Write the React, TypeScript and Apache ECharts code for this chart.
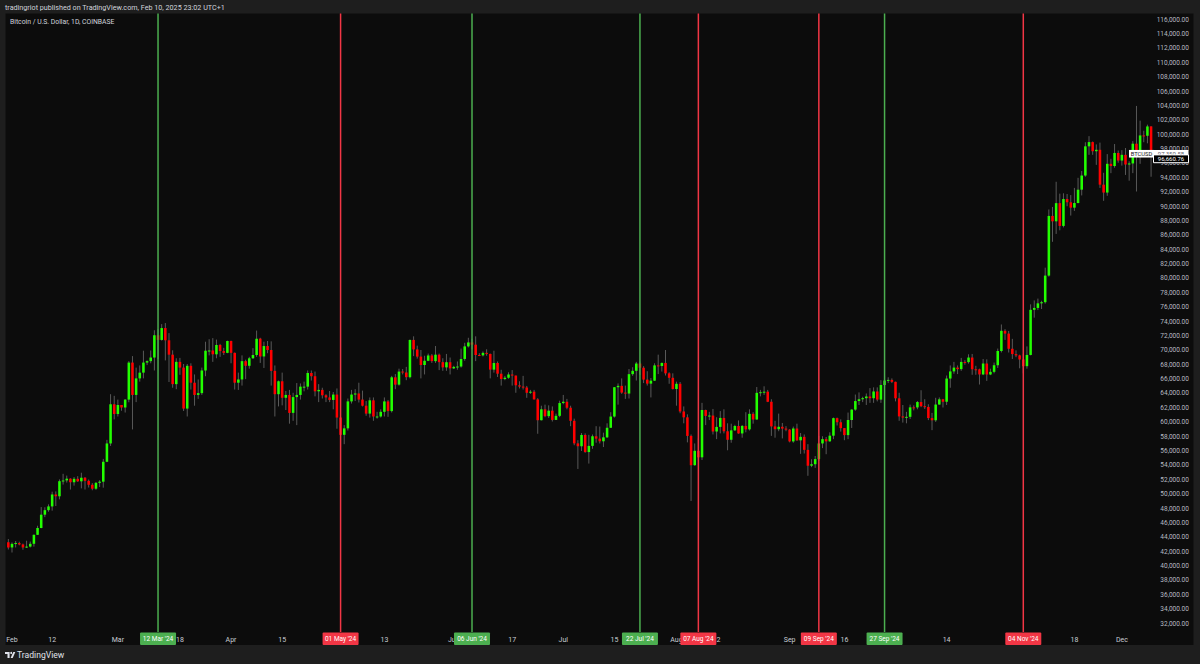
import React, { useEffect, useRef } from 'react';
import * as echarts from 'echarts';

// ---- DATA ----
// Each bar: [high, low, close]; a daily bar opens at the previous close (24/7 market).
const startDate = '2024-01-31';
const firstOpen = 43300;

const jan: number[][] = [[43750, 42300, 42580]];
const feb: number[][] = [
  [43280, 41880, 43080], [43480, 42580, 43190], [43380, 42880, 43000], [43120, 42260, 42580], [43520, 42510, 42700],
  [43400, 42580, 43090], [44380, 42700, 44340], [45600, 44330, 45290], [48200, 45250, 47140], [48170, 46800, 47770],
  [48580, 47550, 48290], [50340, 47700, 49950], [50380, 48350, 49700], [52050, 49270, 51800], [52830, 51330, 51910],
  [52580, 51610, 52150], [52200, 50640, 51650], [52380, 51180, 52130], [52500, 51700, 51780], [52980, 50800, 52280],
  [52380, 50640, 51850], [52030, 50920, 51300], [51530, 50540, 50750], [51680, 50600, 51570], [51940, 51000, 51730],
  [54900, 50900, 54500], [57550, 54450, 57050], [63900, 56700, 62500], [63670, 60400, 61150],
];
const mar: number[][] = [
  [63150, 60800, 62400], [62400, 61600, 62050], [63200, 61350, 63150], [68500, 62780, 68300], [69200, 59000, 63800],
  [67600, 62800, 66100], [67900, 65650, 66900], [69950, 66100, 68300], [68600, 67950, 68500], [69980, 68200, 69000],
  [72800, 67200, 72100], [72950, 68800, 71450], [73650, 71350, 73100], [73800, 68600, 71400], [72400, 65600, 69400],
  [70000, 64800, 65300], [68900, 64600, 68400], [68950, 66600, 67600], [68100, 61560, 61900], [68100, 60800, 67850],
  [68200, 64550, 65500], [66650, 62300, 63800], [65950, 63250, 64050], [67600, 63800, 67200], [71200, 66400, 69950],
  [71550, 69300, 69980], [71700, 68400, 69450], [71500, 68900, 70750], [70900, 69100, 69900], [70350, 69350, 69650],
  [71350, 69600, 71300],
];
const apr: number[][] = [
  [71350, 68200, 69650], [69700, 64550, 65500], [66900, 64500, 65950], [69300, 65100, 68500], [68700, 66000, 67850],
  [69100, 67450, 68900], [70300, 68800, 69350], [72750, 69100, 71630], [71750, 68250, 69150], [71200, 67550, 70600],
  [71300, 69600, 70050], [71250, 65100, 67150], [67900, 60800, 63900], [65800, 62200, 65700], [66900, 62350, 63400],
  [64350, 61700, 63800], [64500, 59800, 61300], [64100, 60200, 63500], [65450, 59600, 63800], [65400, 63150, 64950],
  [65650, 64300, 64950], [67200, 64550, 66850], [67200, 65800, 66400], [67050, 63600, 64300], [65300, 62800, 64500],
  [64800, 63300, 63750], [63900, 62800, 63450], [64350, 62800, 63100], [64200, 61800, 63850], [64700, 59100, 60650],
];
const may: number[][] = [
  [60800, 56550, 58250], [59600, 56950, 59150], [63300, 58850, 62900], [64500, 62600, 63850], [64600, 62950, 64000],
  [65500, 62750, 63150], [64400, 62200, 62300], [62950, 60900, 61200], [63450, 60650, 63050], [63450, 60200, 60800],
  [61450, 60500, 60800], [61800, 60650, 61450], [63450, 60800, 62900], [63100, 60750, 61550], [66450, 61350, 66250],
  [66700, 64600, 65230], [67450, 65100, 67050], [67400, 66650, 66920], [67700, 65850, 66270], [71500, 66100, 71450],
  [71950, 69200, 70130], [70650, 68850, 69130], [70050, 66100, 67960], [69250, 66650, 68550], [69550, 68500, 69290],
  [69500, 68250, 68500], [70600, 68250, 69400], [69550, 67250, 68360], [68900, 67150, 67630], [69500, 67150, 68350],
  [69000, 66650, 67490],
];
const jun: number[][] = [
  [67850, 67400, 67700], [68450, 67300, 67750], [70250, 67600, 68800], [71050, 68550, 70550], [71750, 70400, 71100],
  [71600, 70150, 70790], [71950, 68500, 69350], [69600, 69200, 69300], [69850, 69150, 69650], [70150, 69250, 69500],
  [69550, 66100, 67320], [69950, 66900, 68240], [68450, 66300, 66750], [67300, 65100, 66010], [66450, 65850, 66190],
  [66950, 66050, 66640], [67250, 65100, 66490], [66500, 64100, 65140], [65700, 64700, 64960], [66450, 64550, 64830],
  [65050, 63400, 64100], [64500, 63950, 64250], [64500, 63150, 63180], [63350, 58400, 60280], [62300, 60250, 61800],
  [62450, 60700, 60850], [62350, 60600, 61610], [62200, 60100, 60320], [61200, 60350, 60890], [63000, 60700, 62670],
];
const jul: number[][] = [
  [63800, 62500, 62850], [63250, 61800, 62020], [62300, 59450, 60200], [60500, 56800, 57060], [57500, 53500, 56660],
  [58500, 56000, 58230], [58450, 55750, 55850], [58250, 54250, 56710], [58300, 56300, 58050], [59450, 57150, 57720],
  [59400, 57050, 57350], [58550, 56550, 57900], [59850, 57800, 59230], [61400, 59200, 60790], [64900, 60650, 64870],
  [65400, 62450, 65060], [66100, 63950, 64120], [65100, 63250, 63990], [67400, 63300, 66690], [67650, 66450, 67150],
  [68400, 65800, 68170], [68450, 66600, 67580], [67800, 65450, 65930], [67100, 65100, 65370], [66150, 63450, 65780],
  [68200, 65750, 67910], [69400, 66700, 67820], [68300, 67050, 68250], [70050, 66500, 66800], [66950, 65350, 66180],
  [66800, 64550, 64620],
];
const aug: number[][] = [
  [65650, 62300, 65350], [65600, 61250, 61500], [62200, 59850, 60680], [61100, 57200, 58100], [58300, 49050, 54020],
  [57050, 53950, 56030], [57750, 54550, 55120], [62700, 54750, 61700], [61750, 59600, 60880], [61450, 60300, 60930],
  [61850, 58300, 58710], [60700, 57650, 59350], [61550, 58450, 60600], [61800, 58450, 58740], [59850, 56100, 57560],
  [59800, 57150, 58870], [59650, 58800, 59480], [60250, 58400, 58440], [59600, 57850, 59490], [61400, 58600, 59010],
  [61800, 58850, 61170], [61400, 59800, 60380], [64900, 60350, 64090], [64500, 63600, 64180], [65000, 63800, 64250],
  [64500, 62800, 62850], [63200, 58100, 59420], [60200, 57850, 59030], [61200, 58750, 59370], [59900, 57750, 59120],
  [59450, 58750, 58970],
];
const sep: number[][] = [
  [59050, 57200, 57330], [59400, 57150, 59130], [59800, 57400, 57480], [58500, 55600, 57970], [58300, 55650, 56160],
  [56950, 52550, 53950], [54850, 53750, 54160], [55300, 53650, 54870], [58100, 54600, 57050], [58050, 56400, 57650],
  [57950, 55550, 57340], [58600, 57300, 58130], [60650, 57650, 60570], [60650, 59550, 60000], [60400, 58700, 59180],
  [59200, 57500, 58210], [61350, 57650, 60310], [61800, 59200, 61760], [63850, 61600, 62950], [64150, 62400, 63200],
  [63550, 62800, 63350], [64000, 62400, 63580], [64750, 62700, 63340], [64850, 62700, 64280], [64850, 62900, 63150],
  [65850, 62700, 65180], [66500, 64850, 65800], [66250, 65450, 65890], [66100, 65450, 65620], [65650, 62900, 63330],
];
const oct: number[][] = [
  [64100, 60200, 60810], [62400, 59950, 60650], [61450, 59850, 60750], [62450, 60450, 62070], [62350, 61650, 62060],
  [62950, 61800, 62810], [64450, 62100, 62230], [63200, 61850, 62130], [62500, 60300, 60580], [61300, 58900, 60270],
  [63400, 60050, 62460], [63450, 62450, 63190], [63250, 62050, 62850], [66500, 62400, 66080], [67900, 64800, 67070],
  [68400, 66750, 67600], [67900, 66700, 67390], [68950, 67150, 68390], [68650, 68000, 68360], [69450, 68150, 69000],
  [69500, 66600, 67370], [67850, 66600, 67360], [67450, 65250, 66650], [68800, 66550, 68170], [68750, 65750, 66640],
  [67450, 66550, 67010], [68300, 66800, 67930], [70250, 67550, 69910], [73600, 69700, 72720], [72950, 71450, 72330],
  [72700, 69700, 70220],
];
const nov: number[][] = [
  [71600, 68800, 69480], [70000, 69050, 69300], [69400, 67500, 68730], [69500, 66800, 67800], [70550, 67450, 69360],
  [76400, 69300, 75640], [76950, 74550, 75900], [77200, 75600, 76540], [76900, 75750, 76700], [81500, 76500, 80400],
  [89600, 80250, 88700], [89950, 85100, 87950], [93450, 86200, 90480], [91800, 86700, 87310], [91850, 87100, 91050],
  [91750, 90050, 90600], [91600, 88750, 89850], [92600, 89400, 90500], [94000, 90450, 92350], [94950, 91550, 94320],
  [98950, 94150, 98380], [99800, 97200, 98970], [99050, 97200, 97700], [98650, 95800, 97900], [98900, 92600, 93050],
  [94700, 90800, 91950], [97300, 91500, 95950], [96650, 94650, 95640], [98700, 95400, 97460], [97800, 96100, 96400],
];
const dec: number[][] = [
  [97850, 95700, 97200], [98150, 94400, 95850], [96300, 93600, 96000], [99100, 94650, 98750], [104000, 92100, 96950],
  [101950, 95950, 99900], [100550, 98950, 99850], [101400, 98800, 101150], [101200, 94150, 97350.58],
];

// visible time-scale labels (labels hidden under the signal boxes are left out)
const timeTicks: [string, string][] = [
  ['2024-02-01', 'Feb'], ['2024-02-12', '12'], ['2024-03-01', 'Mar'], ['2024-03-18', '18'],
  ['2024-04-01', 'Apr'], ['2024-04-15', '15'], ['2024-05-13', '13'],
  ['2024-06-01', 'Jun'], ['2024-06-17', '17'], ['2024-07-01', 'Jul'], ['2024-07-15', '15'],
  ['2024-08-01', 'Aug'], ['2024-08-12', '12'], ['2024-09-01', 'Sep'], ['2024-09-16', '16'],
  ['2024-10-14', '14'], ['2024-11-18', '18'],
  ['2024-12-01', 'Dec'],
];

const signals: [string, string, 'buy' | 'sell'][] = [
  ['2024-03-12', "12 Mar '24", 'buy'],
  ['2024-05-01', "01 May '24", 'sell'],
  ['2024-06-06', "06 Jun '24", 'buy'],
  ['2024-07-22', "22 Jul '24", 'buy'],
  ['2024-08-07', "07 Aug '24", 'sell'],
  ['2024-09-09', "09 Sep '24", 'sell'],
  ['2024-09-27', "27 Sep '24", 'buy'],
  ['2024-11-04', "04 Nov '24", 'sell'],
];

const lastPrice = 97350.58;
const secondPrice = 96660.76;
const symbol = 'BTCUSD';
const priceMin = 30000;
const priceMax = 118000;
const priceStep = 2000;
const labelMin = 32000;
const labelMax = 116000;

// ---- BUILD ----
const bars = [...jan, ...feb, ...mar, ...apr, ...may, ...jun, ...jul, ...aug, ...sep, ...oct, ...nov, ...dec];

function dateStr(i: number): string {
  const d = new Date(startDate + 'T00:00:00Z');
  d.setUTCDate(d.getUTCDate() + i);
  return d.toISOString().slice(0, 10);
}
const dates = bars.map((_, i) => dateStr(i));
const ohlc = bars.map((b, i) => {
  const open = i === 0 ? firstOpen : bars[i - 1][2];
  return [i, open, b[2], b[1], b[0]];
});
const tickMap: Record<string, string> = {};
timeTicks.forEach(([d, l]) => (tickMap[d] = l));

const fmtPrice = (v: number) =>
  v.toLocaleString('en-US', { minimumFractionDigits: 2, maximumFractionDigits: 2 });

const FONT = 'Roboto, "Noto Sans", sans-serif';
const BG = '#1e1e1e';
const PANEL = '#0c0c0c';
const UP = '#22ff00';
const DOWN = '#ff0000';
const WICK = '#595959';
const BUY = '#4caf50';
const SELL = '#f23645';

export default function App() {
  const ref = useRef<HTMLDivElement>(null);
  useEffect(() => {
    document.body.style.margin = '0';
    document.body.style.background = BG;
    if (!ref.current) return;
    const chart = echarts.init(ref.current, undefined, { renderer: 'svg' });
    chart.setOption({
      animation: false,
      backgroundColor: BG,
      grid: { left: 6.52, right: 47.1, top: 5.3, bottom: 26.1 },
      xAxis: {
        type: 'category',
        data: dates,
        boundaryGap: true,
        axisLine: { show: false },
        axisTick: { show: false },
        splitLine: { show: false },
        axisLabel: {
          interval: (_idx: number, val: string) => tickMap[val] !== undefined,
          formatter: (val: string) => tickMap[val] || '',
          color: '#c9ccd4',
          fontSize: 7,
          fontFamily: FONT,
          margin: 2.5,
          verticalAlign: 'middle',
        },
      },
      yAxis: {
        type: 'value',
        position: 'right',
        min: priceMin,
        max: priceMax,
        interval: priceStep,
        scale: false,
        axisLine: { show: false },
        axisTick: { show: false },
        splitLine: { show: false },
        axisLabel: {
          formatter: (v: number) => (v >= labelMin && v <= labelMax ? fmtPrice(v) : ''),
          color: '#b8bbc3',
          fontSize: 6.5,
          fontFamily: FONT,
          align: 'right',
          margin: 36,
        },
      },
      series: [
        {
          type: 'custom',
          data: ohlc,
          encode: { x: 0, y: [1, 2, 3, 4] },
          renderItem: (_params: any, api: any) => {
            const idx = api.value(0);
            const o = api.value(1);
            const c = api.value(2);
            const l = api.value(3);
            const h = api.value(4);
            const pO = api.coord([idx, o]);
            const pC = api.coord([idx, c]);
            const pL = api.coord([idx, l]);
            const pH = api.coord([idx, h]);
            const w = api.size([1, 0])[0] * 0.7;
            const x = pO[0];
            const top = Math.min(pO[1], pC[1]);
            const hh = Math.max(Math.abs(pO[1] - pC[1]), 1);
            const color = c >= o ? UP : DOWN;
            return {
              type: 'group',
              children: [
                { type: 'line', shape: { x1: x, y1: pH[1], x2: x, y2: pL[1] }, style: { stroke: WICK, lineWidth: 1 } },
                { type: 'rect', shape: { x: x - w / 2, y: top, width: w, height: hh }, style: { fill: color } },
              ],
            };
          },
        },
      ],
    });

    const yLast = chart.convertToPixel({ yAxisIndex: 0 }, lastPrice) as number;
    const ySecond = chart.convertToPixel({ yAxisIndex: 0 }, secondPrice) as number;
    const elements: any[] = [
      { type: 'rect', z: -10, shape: { x: 5.5, y: 13.5, width: 1188, height: 631.5 }, style: { fill: PANEL } },
      {
        type: 'text', z: 100, x: 5, y: 7,
        style: { text: 'tradingriot published on TradingView.com, Feb 10, 2025 23:02 UTC+1', fill: '#d1d4dc', fontSize: 7.2, fontFamily: FONT, verticalAlign: 'middle' },
      },
      {
        type: 'text', z: 100, x: 10, y: 22,
        style: { text: 'Bitcoin / U.S. Dollar, 1D, COINBASE', fill: '#d1d4dc', fontSize: 6.8, fontFamily: FONT, verticalAlign: 'middle' },
      },
      // footer logo
      {
        type: 'group', z: 100, x: 5, y: 652,
        children: [
          { type: 'polygon', shape: { points: [[0, 0], [4.6, 0], [4.6, 6], [2.5, 6], [2.5, 2], [0, 2]] }, style: { fill: '#e0e3eb' } },
          { type: 'circle', shape: { cx: 6.1, cy: 1, r: 1 }, style: { fill: '#e0e3eb' } },
          { type: 'polygon', shape: { points: [[5.6, 6], [8.3, 0], [10.3, 0], [7.7, 6]] }, style: { fill: '#e0e3eb' } },
        ],
      },
      {
        type: 'text', z: 100, x: 17, y: 655,
        style: { text: 'TradingView', fill: '#e0e3eb', fontSize: 8.6, fontFamily: FONT, verticalAlign: 'middle' },
      },
    ];

    signals.forEach(([d, label, kind]) => {
      const x = chart.convertToPixel({ xAxisIndex: 0 }, d) as number;
      const col = kind === 'buy' ? BUY : SELL;
      elements.push({ type: 'line', z: 50, shape: { x1: x, y1: 13.5, x2: x, y2: 632 }, style: { stroke: col, lineWidth: 1.5 } });
      elements.push({ type: 'rect', z: 60, shape: { x: x - 18, y: 632.5, width: 36, height: 12.5, r: 1 }, style: { fill: col } });
      elements.push({
        type: 'text', z: 61, x: x, y: 639,
        style: { text: label, fill: '#ffffff', fontSize: 6.5, fontFamily: FONT, align: 'center', verticalAlign: 'middle' },
      });
    });

    // last price labels
    elements.push({ type: 'rect', z: 70, shape: { x: 1129, y: yLast - 3.8, width: 25, height: 7.6 }, style: { fill: '#ffffff' } });
    elements.push({
      type: 'text', z: 71, x: 1141.5, y: yLast,
      style: { text: symbol, fill: '#131722', fontSize: 5.8, fontFamily: FONT, align: 'center', verticalAlign: 'middle' },
    });
    elements.push({ type: 'rect', z: 70, shape: { x: 1154, y: yLast - 3.8, width: 34.5, height: 7.6 }, style: { fill: '#ffffff' } });
    elements.push({
      type: 'text', z: 71, x: 1171, y: yLast,
      style: { text: fmtPrice(lastPrice), fill: '#5d606b', fontSize: 6, fontFamily: FONT, align: 'center', verticalAlign: 'middle' },
    });
    elements.push({ type: 'rect', z: 72, shape: { x: 1153.5, y: ySecond - 3.8, width: 35, height: 7.8 }, style: { fill: '#000000', stroke: '#ffffff', lineWidth: 1 } });
    elements.push({
      type: 'text', z: 73, x: 1171, y: ySecond + 0.2,
      style: { text: fmtPrice(secondPrice), fill: '#ffffff', fontSize: 6, fontFamily: FONT, align: 'center', verticalAlign: 'middle' },
    });

    chart.setOption({ graphic: { elements } });
    return () => chart.dispose();
  }, []);
  return <div ref={ref} style={{ width: 1200, height: 664 }} />;
}
